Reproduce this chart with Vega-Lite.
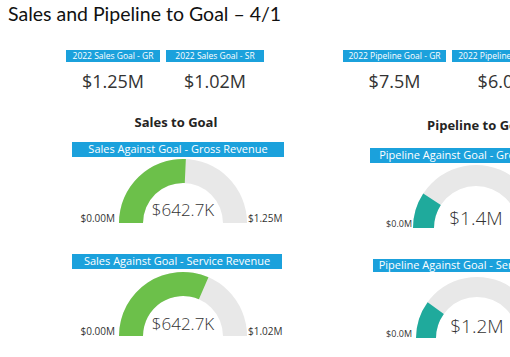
{
  "$schema": "https://vega.github.io/schema/vega-lite/v6.json",
  "padding": {"top": 4, "left": 0, "right": 0, "bottom": 0},
  "title": {"text": "Sales and Pipeline to Goal – 4/1", "anchor": "start", "fontSize": 19.5, "fontWeight": "normal", "font": "Lato", "color": "#111", "offset": 25, "dx": 8},
  "datasets": {
    "kpis": [
      {"label": "2022 Sales Goal - GR", "goal": 1250000},
      {"label": "2022 Sales Goal - SR", "goal": 1020000},
      {"label": "2022 Pipeline Goal - GR", "goal": 7500000},
      {"label": "2022 Pipeline Goal - SR", "goal": 6000000}
    ],
    "gauges": [
      {"gauge": "Sales Against Goal - Gross Revenue", "min": 0, "value": 642700, "goal": 1250000, "valueText": "$642.7K", "minText": "$0.00M", "maxText": "$1.25M"},
      {"gauge": "Sales Against Goal - Service Revenue", "min": 0, "value": 642700, "goal": 1020000, "valueText": "$642.7K", "minText": "$0.00M", "maxText": "$1.02M"},
      {"gauge": "Pipeline Against Goal - Gross Revenue", "min": 0, "value": 1380000, "goal": 7500000, "valueText": "$1.4M", "minText": "$0.0M", "maxText": "$7.5M"},
      {"gauge": "Pipeline Against Goal - Service Revenue", "min": 0, "value": 1200000, "goal": 6000000, "valueText": "$1.2M", "minText": "$0.0M", "maxText": "$6.0M"}
    ]
  },
  "spacing": 59,
  "hconcat": [
    {
      "spacing": 0,
      "vconcat": [
        {"spacing": 6, "hconcat": [
          {"width": 60, "height": 12, "data": {"values": [{}]}, "mark": "text", "encoding": {"text": {"value": ""}}},
          {"width": 94, "height": 12, "view": {"fill": "#1ba1dc", "stroke": null}, "data": {"name": "kpis"}, "transform": [{"filter": "datum.label === '2022 Sales Goal - GR'"}], "mark": {"type": "text", "color": "white", "fontSize": 8.5, "baseline": "middle"}, "encoding": {"text": {"field": "label"}}},
          {"width": 98, "height": 12, "view": {"fill": "#1ba1dc", "stroke": null}, "data": {"name": "kpis"}, "transform": [{"filter": "datum.label === '2022 Sales Goal - SR'"}], "mark": {"type": "text", "color": "white", "fontSize": 8.5, "baseline": "middle"}, "encoding": {"text": {"field": "label"}}}
        ]},
        {"spacing": 6, "hconcat": [
          {"width": 60, "height": 42, "data": {"values": [{}]}, "mark": "text", "encoding": {"text": {"value": ""}}},
          {"width": 94, "height": 42, "data": {"name": "kpis"}, "transform": [{"filter": "datum.label === '2022 Sales Goal - GR'"}], "mark": {"type": "text", "color": "#333", "fontSize": 18, "baseline": "middle"}, "encoding": {"text": {"field": "goal", "type": "quantitative", "format": "$.3s"}}},
          {"width": 98, "height": 42, "data": {"name": "kpis"}, "transform": [{"filter": "datum.label === '2022 Sales Goal - SR'"}], "mark": {"type": "text", "color": "#333", "fontSize": 18, "baseline": "middle"}, "encoding": {"text": {"field": "goal", "type": "quantitative", "format": "$.3s"}}}
        ]},
        {"spacing": 0, "hconcat": [
          {"width": 100, "height": 38, "data": {"values": [{}]}, "mark": "text", "encoding": {"text": {"value": ""}}},
          {"width": 152, "height": 38, "data": {"values": [{"section": "Sales to Goal"}]}, "mark": {"type": "text", "color": "#252423", "fontSize": 13, "fontWeight": "bold", "baseline": "middle"}, "encoding": {"text": {"field": "section"}}}
        ]},
        {"spacing": 0, "hconcat": [
          {"width": 72, "height": 15, "data": {"values": [{}]}, "mark": "text", "encoding": {"text": {"value": ""}}},
          {"width": 212, "height": 15, "view": {"fill": "#1ba1dc", "stroke": null}, "data": {"name": "gauges"}, "transform": [{"filter": "datum.gauge === 'Sales Against Goal - Gross Revenue'"}], "mark": {"type": "text", "color": "white", "fontSize": 11, "baseline": "middle"}, "encoding": {"text": {"field": "gauge"}}}
        ]},
        {"spacing": 0, "hconcat": [
          {"width": 80, "height": 66, "data": {"values": [{}]}, "mark": "text", "encoding": {"text": {"value": ""}}},
          {"width": 200, "height": 66, "data": {"name": "gauges"}, "transform": [{"filter": "datum.gauge === 'Sales Against Goal - Gross Revenue'"}],
           "layer": [
            {"mark": {"type": "arc", "radius": 64, "radius2": 40, "color": "#e8e8e8"}, "encoding": {"theta": {"field": "goal", "type": "quantitative", "stack": null, "scale": {"range": [-1.5708, 1.5708], "nice": false, "zero": true}}, "theta2": {"field": "min"}, "y": {"value": "height"}}},
            {"mark": {"type": "arc", "radius": 64, "radius2": 40, "color": "#6cc04a"}, "encoding": {"theta": {"field": "value", "type": "quantitative", "stack": null}, "theta2": {"field": "min"}, "y": {"value": "height"}}},
            {"mark": {"type": "text", "fontSize": 17, "fontWeight": 300, "color": "#333", "baseline": "alphabetic", "dy": -7}, "encoding": {"text": {"field": "valueText"}, "y": {"value": "height"}}},
            {"mark": {"type": "text", "fontSize": 10, "color": "#333", "baseline": "alphabetic", "align": "right", "dx": -68, "dy": -1}, "encoding": {"text": {"field": "minText"}, "y": {"value": "height"}}},
            {"mark": {"type": "text", "fontSize": 10, "color": "#333", "baseline": "alphabetic", "align": "left", "dx": 65, "dy": -1}, "encoding": {"text": {"field": "maxText"}, "y": {"value": "height"}}}
           ]}
        ]},
        {"width": 60, "height": 30, "data": {"values": [{}]}, "mark": "text", "encoding": {"text": {"value": ""}}},
        {"spacing": 0, "hconcat": [
          {"width": 72, "height": 15, "data": {"values": [{}]}, "mark": "text", "encoding": {"text": {"value": ""}}},
          {"width": 210, "height": 15, "view": {"fill": "#1ba1dc", "stroke": null}, "data": {"name": "gauges"}, "transform": [{"filter": "datum.gauge === 'Sales Against Goal - Service Revenue'"}], "mark": {"type": "text", "color": "white", "fontSize": 11, "baseline": "middle"}, "encoding": {"text": {"field": "gauge"}}}
        ]},
        {"spacing": 0, "hconcat": [
          {"width": 80, "height": 67, "data": {"values": [{}]}, "mark": "text", "encoding": {"text": {"value": ""}}},
          {"width": 200, "height": 67, "data": {"name": "gauges"}, "transform": [{"filter": "datum.gauge === 'Sales Against Goal - Service Revenue'"}],
           "layer": [
            {"mark": {"type": "arc", "radius": 64, "radius2": 40, "color": "#e8e8e8"}, "encoding": {"theta": {"field": "goal", "type": "quantitative", "stack": null, "scale": {"range": [-1.5708, 1.5708], "nice": false, "zero": true}}, "theta2": {"field": "min"}, "y": {"value": "height"}}},
            {"mark": {"type": "arc", "radius": 64, "radius2": 40, "color": "#6cc04a"}, "encoding": {"theta": {"field": "value", "type": "quantitative", "stack": null}, "theta2": {"field": "min"}, "y": {"value": "height"}}},
            {"mark": {"type": "text", "fontSize": 17, "fontWeight": 300, "color": "#333", "baseline": "alphabetic", "dy": -6}, "encoding": {"text": {"field": "valueText"}, "y": {"value": "height"}}},
            {"mark": {"type": "text", "fontSize": 10, "color": "#333", "baseline": "alphabetic", "align": "right", "dx": -68, "dy": -1}, "encoding": {"text": {"field": "minText"}, "y": {"value": "height"}}},
            {"mark": {"type": "text", "fontSize": 10, "color": "#333", "baseline": "alphabetic", "align": "left", "dx": 65, "dy": -1}, "encoding": {"text": {"field": "maxText"}, "y": {"value": "height"}}}
           ]}
        ]}
      ]
    },
    {
      "spacing": 0,
      "vconcat": [
        {"spacing": 6, "hconcat": [
          {"width": 103, "height": 12, "view": {"fill": "#1ba1dc", "stroke": null}, "data": {"name": "kpis"}, "transform": [{"filter": "datum.label === '2022 Pipeline Goal - GR'"}], "mark": {"type": "text", "color": "white", "fontSize": 8.5, "baseline": "middle"}, "encoding": {"text": {"field": "label"}}},
          {"width": 103, "height": 12, "view": {"fill": "#1ba1dc", "stroke": null}, "data": {"name": "kpis"}, "transform": [{"filter": "datum.label === '2022 Pipeline Goal - SR'"}], "mark": {"type": "text", "color": "white", "fontSize": 8.5, "baseline": "middle"}, "encoding": {"text": {"field": "label"}}}
        ]},
        {"spacing": 6, "hconcat": [
          {"width": 103, "height": 42, "data": {"name": "kpis"}, "transform": [{"filter": "datum.label === '2022 Pipeline Goal - GR'"}], "mark": {"type": "text", "color": "#333", "fontSize": 18, "baseline": "middle"}, "encoding": {"text": {"field": "goal", "type": "quantitative", "format": "$.2s"}}},
          {"width": 103, "height": 42, "data": {"name": "kpis"}, "transform": [{"filter": "datum.label === '2022 Pipeline Goal - SR'"}], "mark": {"type": "text", "color": "#333", "fontSize": 18, "baseline": "middle"}, "encoding": {"text": {"field": "goal", "type": "quantitative", "format": "$.2s"}}}
        ]},
        {"width": 270, "height": 44, "data": {"values": [{"section": "Pipeline to Goal"}]}, "mark": {"type": "text", "color": "#252423", "fontSize": 13, "fontWeight": "bold", "baseline": "middle"}, "encoding": {"text": {"field": "section"}}},
        {"spacing": 0, "hconcat": [
          {"width": 27, "height": 15, "data": {"values": [{}]}, "mark": "text", "encoding": {"text": {"value": ""}}},
          {"width": 212, "height": 15, "view": {"fill": "#1ba1dc", "stroke": null}, "data": {"name": "gauges"}, "transform": [{"filter": "datum.gauge === 'Pipeline Against Goal - Gross Revenue'"}], "mark": {"type": "text", "color": "white", "fontSize": 11, "baseline": "middle"}, "encoding": {"text": {"field": "gauge"}}}
        ]},
        {"spacing": 0, "hconcat": [
          {"width": 33, "height": 65, "data": {"values": [{}]}, "mark": "text", "encoding": {"text": {"value": ""}}},
          {"width": 200, "height": 65, "data": {"name": "gauges"}, "transform": [{"filter": "datum.gauge === 'Pipeline Against Goal - Gross Revenue'"}],
           "layer": [
            {"mark": {"type": "arc", "radius": 63, "radius2": 42, "color": "#e8e8e8"}, "encoding": {"theta": {"field": "goal", "type": "quantitative", "stack": null, "scale": {"range": [-1.5708, 1.5708], "nice": false, "zero": true}}, "theta2": {"field": "min"}, "y": {"value": "height"}}},
            {"mark": {"type": "arc", "radius": 63, "radius2": 42, "color": "#1faa9c"}, "encoding": {"theta": {"field": "value", "type": "quantitative", "stack": null}, "theta2": {"field": "min"}, "y": {"value": "height"}}},
            {"mark": {"type": "text", "fontSize": 19, "fontWeight": 300, "color": "#333", "baseline": "alphabetic", "dy": -3}, "encoding": {"text": {"field": "valueText"}, "y": {"value": "height"}}},
            {"mark": {"type": "text", "fontSize": 9, "color": "#333", "baseline": "alphabetic", "align": "right", "dx": -64, "dy": -1}, "encoding": {"text": {"field": "minText"}, "y": {"value": "height"}}},
            {"mark": {"type": "text", "fontSize": 9, "color": "#333", "baseline": "alphabetic", "align": "left", "dx": 64, "dy": -1}, "encoding": {"text": {"field": "maxText"}, "y": {"value": "height"}}}
           ]}
        ]},
        {"width": 60, "height": 30, "data": {"values": [{}]}, "mark": "text", "encoding": {"text": {"value": ""}}},
        {"spacing": 0, "hconcat": [
          {"width": 30, "height": 13, "data": {"values": [{}]}, "mark": "text", "encoding": {"text": {"value": ""}}},
          {"width": 212, "height": 13, "view": {"fill": "#1ba1dc", "stroke": null}, "data": {"name": "gauges"}, "transform": [{"filter": "datum.gauge === 'Pipeline Against Goal - Service Revenue'"}], "mark": {"type": "text", "color": "white", "fontSize": 11, "baseline": "middle"}, "encoding": {"text": {"field": "gauge"}}}
        ]},
        {"spacing": 0, "hconcat": [
          {"width": 34, "height": 66, "data": {"values": [{}]}, "mark": "text", "encoding": {"text": {"value": ""}}},
          {"width": 200, "height": 66, "data": {"name": "gauges"}, "transform": [{"filter": "datum.gauge === 'Pipeline Against Goal - Service Revenue'"}],
           "layer": [
            {"mark": {"type": "arc", "radius": 61, "radius2": 41, "color": "#e8e8e8"}, "encoding": {"theta": {"field": "goal", "type": "quantitative", "stack": null, "scale": {"range": [-1.5708, 1.5708], "nice": false, "zero": true}}, "theta2": {"field": "min"}, "y": {"value": "height"}}},
            {"mark": {"type": "arc", "radius": 61, "radius2": 41, "color": "#1faa9c"}, "encoding": {"theta": {"field": "value", "type": "quantitative", "stack": null}, "theta2": {"field": "min"}, "y": {"value": "height"}}},
            {"mark": {"type": "text", "fontSize": 19, "fontWeight": 300, "color": "#333", "baseline": "alphabetic", "dy": -5}, "encoding": {"text": {"field": "valueText"}, "y": {"value": "height"}}},
            {"mark": {"type": "text", "fontSize": 9, "color": "#333", "baseline": "alphabetic", "align": "right", "dx": -65, "dy": -1}, "encoding": {"text": {"field": "minText"}, "y": {"value": "height"}}},
            {"mark": {"type": "text", "fontSize": 9, "color": "#333", "baseline": "alphabetic", "align": "left", "dx": 64, "dy": -1}, "encoding": {"text": {"field": "maxText"}, "y": {"value": "height"}}}
           ]}
        ]}
      ]
    }
  ],
  "config": {"view": {"stroke": null}, "font": "Open Sans", "text": {"font": "Open Sans"}}
}
